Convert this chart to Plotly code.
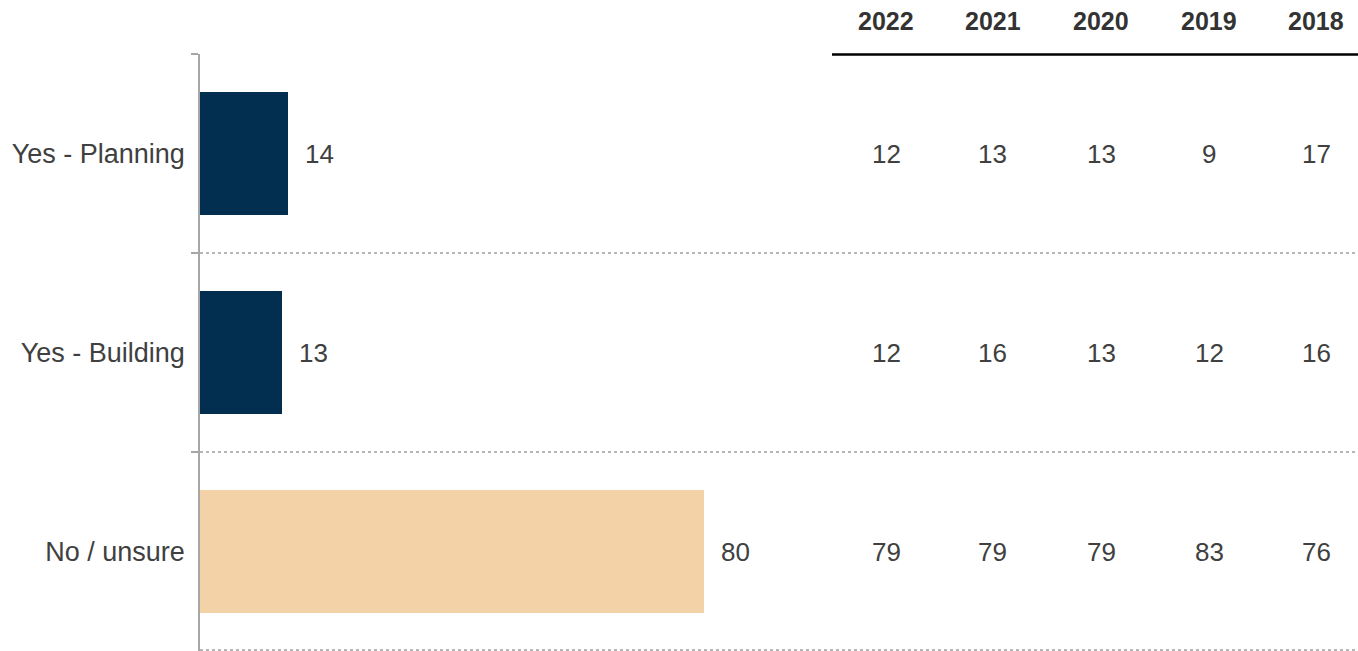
import plotly.graph_objects as go

categories = ["Yes - Planning", "Yes - Building", "No / unsure"]
values_2023 = [14, 13, 80]
bar_colors = ["#022E50", "#022E50", "#F3D2A8"]
years = ["2022", "2021", "2020", "2019", "2018"]
history = {
    "2022": [12, 12, 79],
    "2021": [13, 16, 79],
    "2020": [13, 13, 79],
    "2019": [9, 12, 83],
    "2018": [17, 16, 76],
}

W, H = 1358, 651
FONT = "Liberation Sans, Arial, sans-serif"
TXT = "#404040"

axis_left_px = 200
px_per_unit = 6.3
x_max = (W - axis_left_px) / px_per_unit
top_px = 54
col_centers_px = [886, 993, 1101, 1209, 1316]

fig = go.Figure()
fig.add_trace(go.Bar(
    x=values_2023, y=categories, orientation="h",
    marker=dict(color=bar_colors, line=dict(width=0)),
    width=0.62, hoverinfo="skip",
))

annotations = []
for c, v in zip(categories, values_2023):
    annotations.append(dict(x=v, y=c, xref="x", yref="y", text=str(v),
                            showarrow=False, xanchor="left", xshift=15,
                            font=dict(family=FONT, size=26, color=TXT)))
for yr, cx in zip(years, col_centers_px):
    annotations.append(dict(x=cx / W, y=1 - 21 / H, xref="paper", yref="paper",
                            text="<b>%s</b>" % yr, showarrow=False,
                            xanchor="center", yanchor="middle",
                            font=dict(family=FONT, size=25, color="#333333")))
    for c, v in zip(categories, history[yr]):
        annotations.append(dict(x=cx / W, y=c, xref="paper", yref="y",
                                text=str(v), showarrow=False,
                                xanchor="center", yanchor="middle",
                                font=dict(family=FONT, size=26, color=TXT)))

shapes = []
for yb in [0.5, 1.5, 2.495]:
    shapes.append(dict(type="line", xref="paper", yref="y",
                       x0=axis_left_px / W, x1=1, y0=yb, y1=yb,
                       line=dict(color="#A0A0A0", width=1.3, dash="dot")))
shapes.append(dict(type="line", xref="paper", yref="paper",
                   x0=832 / W, x1=1, y0=1 - 54.5 / H, y1=1 - 54.5 / H,
                   line=dict(color="#000000", width=2.5)))

fig.update_layout(
    width=W, height=H,
    margin=dict(l=0, r=0, t=0, b=0),
    paper_bgcolor="white", plot_bgcolor="white",
    showlegend=False,
    bargap=0,
    xaxis=dict(domain=[axis_left_px / W, 1], range=[0, x_max],
               visible=False, fixedrange=True),
    yaxis=dict(domain=[0, 1 - top_px / H], range=[2.5, -0.5],
               type="category", categoryorder="array", categoryarray=categories,
               tickson="boundaries", ticks="outside", ticklen=7,
               tickcolor="#A6A6A6", tickwidth=1.5,
               showline=True, linecolor="#A6A6A6", linewidth=1.5,
               showgrid=False, zeroline=False, ticklabelstandoff=8,
               tickfont=dict(family=FONT, size=27, color=TXT),
               fixedrange=True),
    annotations=annotations,
    shapes=shapes,
)

fig.write_html("out.html", config={"displayModeBar": False},
               post_script="document.body.style.margin='0';document.body.style.overflow='hidden';")
